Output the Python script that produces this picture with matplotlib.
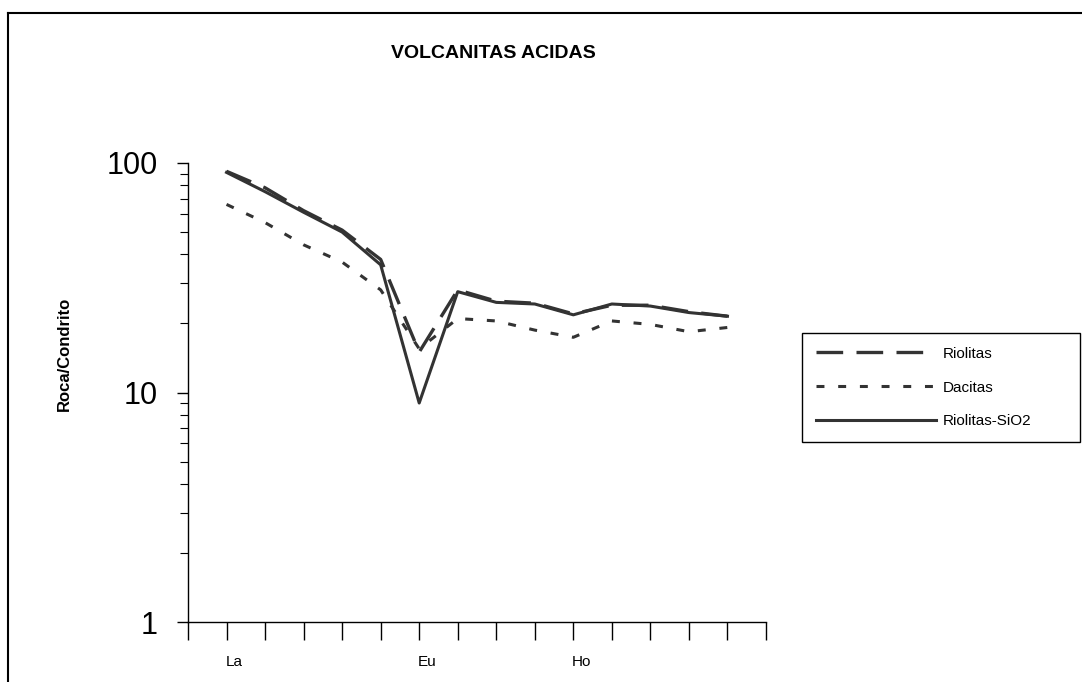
import matplotlib
matplotlib.use("Agg")
import matplotlib.pyplot as plt
from matplotlib.lines import Line2D

# REE patterns normalised to chondrite
elements = ["La", "Ce", "Pr", "Nd", "Sm", "Eu", "Gd", "Tb", "Dy", "Ho", "Er", "Tm", "Yb", "Lu"]
shown_labels = ["La", "Eu", "Ho"]

riolitas = [92, 78, 62, 51, 38, 15, 28, 25, 24.5, 22, 24, 24, 22.5, 21.5]
dacitas = [66, 55, 44, 37, 28, 15.5, 21, 20.5, 18.7, 17.4, 20.5, 19.8, 18.4, 19.2]
riolitas_sio2 = [91, 75, 61, 50, 36, 9, 27.5, 24.7, 24.3, 21.8, 24.3, 23.8, 22.3, 21.5]

narrow = ["Liberation Sans Narrow", "Liberation Sans", "DejaVu Sans"]
regular = ["Liberation Sans", "DejaVu Sans"]
W, H = 1082, 682

fig = plt.figure(figsize=(W / 100, H / 100), dpi=100)
ax = fig.add_axes([188 / W, 1 - 622 / H, (766 - 188) / W, (622 - 163) / H])

x = list(range(len(elements)))
line_col = "#333333"
ax.plot(x, riolitas, color=line_col, lw=2.4, dashes=(8, 4), label="Riolitas")
ax.plot(x, dacitas, color=line_col, lw=2.2, dashes=(2.6, 4.5), label="Dacitas")
ax.plot(x, riolitas_sio2, color=line_col, lw=2.2, label="Riolitas-SiO2")

ax.set_yscale("log")
ax.set_ylim(1, 100)
ax.set_xlim(-1, len(elements))

# y axis: big decade labels, ticks pointing out
ax.set_yticks([1, 10, 100])
ax.set_yticklabels(["1", "10", "100"], fontfamily=regular, fontsize=22)
ax.tick_params(axis="y", which="major", direction="out", length=8, width=1, pad=14)
ax.tick_params(axis="y", which="minor", direction="out", length=6, width=0.8)

# x axis: tick at every category boundary, labels only for a few elements
ax.set_xticks(range(-1, len(elements) + 1))
ax.set_xticklabels([])
ax.tick_params(axis="x", which="major", direction="out", length=13, width=1)
label_pos = [elements.index(e) + 0.2 for e in shown_labels]
ax.set_xticks(label_pos, minor=True)
ax.set_xticklabels(shown_labels, minor=True, fontfamily=narrow, fontsize=11)
ax.tick_params(axis="x", which="minor", length=0, pad=24)

for side in ("top", "right"):
    ax.spines[side].set_visible(False)
for side in ("left", "bottom"):
    ax.spines[side].set_linewidth(1)

fig.text(493 / W, 1 - 53 / H, "VOLCANITAS ACIDAS", ha="center", va="center",
         fontfamily=narrow, fontweight="bold", fontsize=14)
fig.text(64 / W, 1 - 354 / H, "Roca/Condrito", rotation=90, ha="center", va="center",
         fontfamily=narrow, fontweight="bold", fontsize=12)

leg = fig.legend(loc="upper left",
                 bbox_to_anchor=(802 / W, 1 - 449 / H, 278 / W, 116 / H),
                 mode="expand", borderaxespad=0, fancybox=False,
                 edgecolor="black", framealpha=1, handlelength=7.9,
                 handletextpad=0.4, labelspacing=1.3, borderpad=0.9,
                 prop={"family": narrow, "size": 11})
leg.get_frame().set_linewidth(1)

# outer chart frame
fig.add_artist(Line2D([8 / W, 1], [1 - 13 / H, 1 - 13 / H], color="black", lw=1.5))
fig.add_artist(Line2D([8 / W, 8 / W], [0, 1 - 13 / H], color="black", lw=1.5))

fig.savefig("out.png", dpi=100)
